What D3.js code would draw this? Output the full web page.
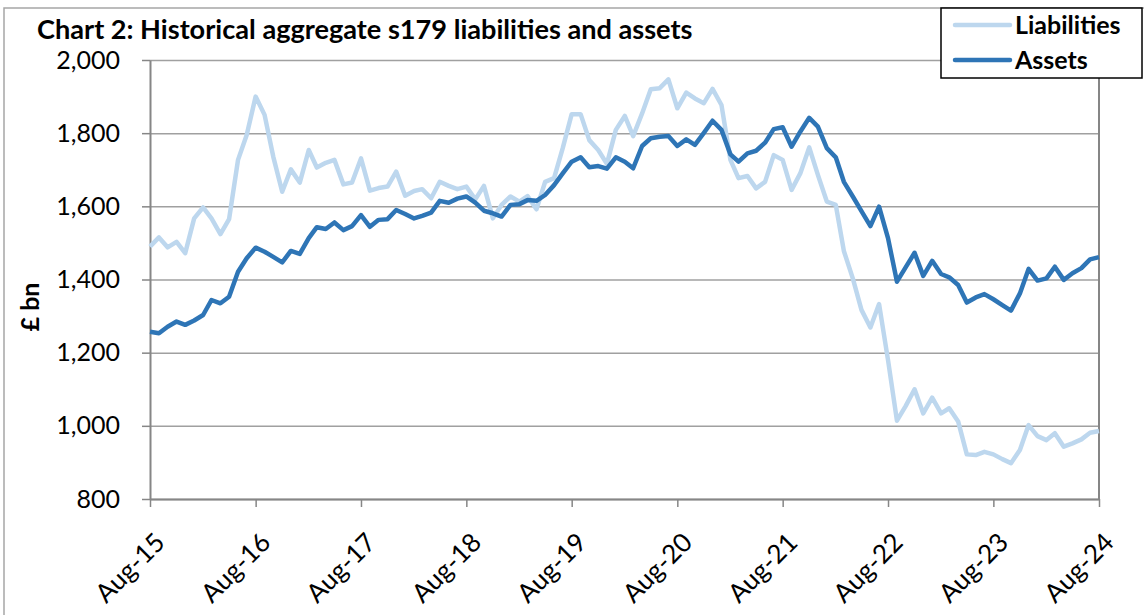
<!DOCTYPE html>
<html>
<head>
<meta charset="utf-8">
<script src="https://cdn.jsdelivr.net/npm/d3@7"></script>
<style>
  body { margin: 0; background: #fff; }
  svg { display: block; font-family: Lato, "Open Sans", sans-serif; }
</style>
</head>
<body>
<div id="chart"></div>
<script>
// monthly from Aug-15 to Aug-24, £bn
const startMonth = new Date(2015, 7, 1);

const liabilities = [
  1490, 1515, 1488, 1503, 1472, 1567, 1597, 1567, 1524, 1565, 1727, 1795,
  1900, 1850, 1736, 1640, 1701, 1665, 1754, 1706, 1719, 1727, 1660, 1665,
  1731, 1643, 1650, 1654, 1695, 1629, 1642, 1647, 1622, 1667, 1656, 1647,
  1654, 1619, 1656, 1567, 1604, 1627, 1613, 1628, 1592, 1667, 1677, 1759,
  1852, 1852, 1781, 1754, 1716, 1809, 1847, 1792, 1854, 1920, 1923, 1947,
  1868, 1911, 1895, 1882, 1921, 1877, 1727, 1677, 1683, 1649, 1667, 1740,
  1727, 1645, 1690, 1761, 1686, 1613, 1604, 1478, 1403, 1317, 1269, 1333,
  1180, 1014, 1054, 1100, 1034, 1077, 1034, 1048, 1012, 922, 920, 929,
  922, 909, 898, 934, 1002, 972, 961, 980, 943, 952, 963, 981,
  986
];

const assets = [
  1257, 1253, 1271, 1285, 1276, 1288, 1303, 1344, 1335, 1353, 1421, 1458,
  1487, 1476, 1462, 1447, 1478, 1470, 1513, 1543, 1538, 1556, 1535, 1546,
  1576, 1544, 1563, 1565, 1590, 1579, 1567, 1574, 1583, 1615, 1610, 1621,
  1627, 1610, 1588, 1581, 1572, 1604, 1606, 1617, 1615, 1631, 1658, 1690,
  1722, 1734, 1707, 1710, 1703, 1734, 1722, 1704, 1765, 1786, 1790, 1792,
  1765, 1783, 1768, 1801, 1834, 1809, 1742, 1722, 1745, 1752, 1774, 1811,
  1816, 1763, 1804, 1842, 1818, 1759, 1734, 1667, 1627, 1587, 1546, 1599,
  1513, 1394, 1433, 1473, 1410, 1451, 1415, 1406, 1385, 1337, 1351, 1360,
  1346, 1330, 1315, 1362, 1429, 1397, 1403, 1435, 1399, 1417, 1431, 1455,
  1461
];

const yTicks = [800, 1000, 1200, 1400, 1600, 1800, 2000];
const xTickLabels = ["Aug-15", "Aug-16", "Aug-17", "Aug-18", "Aug-19",
                     "Aug-20", "Aug-21", "Aug-22", "Aug-23", "Aug-24"];

const WIDTH = 1144, HEIGHT = 615;
const MARGINS = {top: 60, right: 45, bottom: 116, left: 150};
const W = WIDTH - MARGINS.left - MARGINS.right;
const H = HEIGHT - MARGINS.top - MARGINS.bottom;

const LIGHT = "#bdd7ee", DARK = "#2e75b6", GRID = "#a0a0a0", AXIS = "#868686";

const dates = liabilities.map((d, i) => d3.timeMonth.offset(startMonth, i));
const tickDates = xTickLabels.map((d, i) => d3.timeMonth.offset(startMonth, i * 12));

const root = d3.select("#chart")
  .append("svg")
    .attr("width", WIDTH)
    .attr("height", HEIGHT);

// outer chart frame
root.append("rect")
  .attr("x", 4).attr("y", 8)
  .attr("width", 1300).attr("height", 800)
  .attr("fill", "none")
  .attr("stroke", "#a6a6a6")
  .attr("stroke-width", 1.5);

const title = root.append("text")
  .attr("x", 37)
  .attr("y", 39)
  .attr("font-weight", "bold")
  .attr("font-size", 20)
  .attr("fill", "#000")
  .text("Chart 2: Historical aggregate s179 liabilities and assets");
// fit the title to the width it has in the source
const tw = title.node().getComputedTextLength();
title.attr("font-size", 20 * 656 / tw);

const svg = root.append("g")
  .attr("transform", `translate(${MARGINS.left}, ${MARGINS.top})`);

const x = d3.scaleTime()
  .domain([dates[0], dates[dates.length - 1]])
  .range([0, W]);

const y = d3.scaleLinear()
  .domain([800, 2000])
  .range([H, 0]);

// gridlines
svg.append("g")
  .call(d3.axisLeft(y).tickValues(yTicks).tickSize(-W).tickFormat(""))
  .call(g => g.select(".domain").remove())
  .call(g => g.selectAll("line").attr("stroke", GRID).attr("stroke-width", 1.5));

// right border of plot area
svg.append("line")
  .attr("x1", W).attr("x2", W)
  .attr("y1", 0).attr("y2", H)
  .attr("stroke", AXIS).attr("stroke-width", 2);

const yAxis = svg.append("g")
  .call(d3.axisLeft(y).tickValues(yTicks).tickSize(8).tickSizeOuter(0)
    .tickPadding(22).tickFormat(d3.format(",")));
yAxis.select(".domain").attr("stroke", AXIS).attr("stroke-width", 2);
yAxis.selectAll("line").attr("stroke", AXIS).attr("stroke-width", 1.5);
yAxis.selectAll("text")
  .attr("font-family", "Lato, sans-serif")
  .attr("font-size", 25)
  .attr("fill", "#000");

const xAxis = svg.append("g")
  .attr("transform", `translate(0, ${H})`)
  .call(d3.axisBottom(x).tickValues(tickDates).tickSize(8).tickSizeOuter(0)
    .tickFormat((d, i) => xTickLabels[i]));
xAxis.select(".domain").attr("stroke", AXIS).attr("stroke-width", 2);
xAxis.selectAll("line").attr("stroke", AXIS).attr("stroke-width", 1.5);
xAxis.selectAll("text")
  .attr("font-family", "Lato, sans-serif")
  .attr("font-size", 26)
  .attr("fill", "#000")
  .attr("text-anchor", "end")
  .attr("dy", null)
  .attr("y", null)
  .attr("transform", "translate(16, 45) rotate(-45)");

root.append("text")
  .attr("transform", `translate(39, 307) rotate(-90)`)
  .attr("text-anchor", "middle")
  .attr("font-weight", "bold")
  .attr("font-size", 25)
  .text("£ bn");

const line = d3.line()
  .x((d, i) => x(dates[i]))
  .y(d => y(d));

svg.append("path")
  .datum(liabilities)
  .attr("fill", "none")
  .attr("stroke", LIGHT)
  .attr("stroke-width", 4.5)
  .attr("stroke-linejoin", "round")
  .attr("d", line);

svg.append("path")
  .datum(assets)
  .attr("fill", "none")
  .attr("stroke", DARK)
  .attr("stroke-width", 4.5)
  .attr("stroke-linejoin", "round")
  .attr("d", line);

// legend
const legend = root.append("g");
legend.append("rect")
  .attr("x", 941).attr("y", 8)
  .attr("width", 201).attr("height", 70)
  .attr("fill", "#fff")
  .attr("stroke", "#000")
  .attr("stroke-width", 1.5);

[["Liabilities", LIGHT, 25], ["Assets", DARK, 60]].forEach(([name, color, ly]) => {
  legend.append("line")
    .attr("x1", 955).attr("x2", 1010)
    .attr("y1", ly).attr("y2", ly)
    .attr("stroke", color)
    .attr("stroke-width", 4.5)
    .attr("stroke-linecap", "round");
  legend.append("text")
    .attr("x", 1015)
    .attr("y", ly)
    .attr("dy", "0.36em")
    .attr("font-weight", "bold")
    .attr("font-size", 25)
    .text(name);
});
</script>
</body>
</html>
